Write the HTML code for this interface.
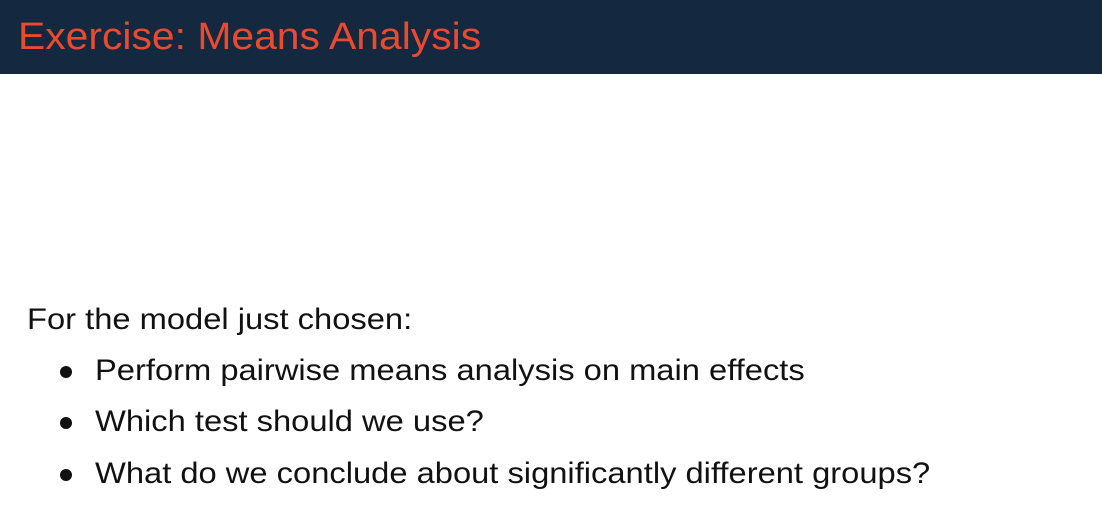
<!DOCTYPE html>
<html>
<head>
<meta charset="utf-8">
<style>
  html,body{margin:0;padding:0;}
  body{width:1102px;height:531px;background:#fff;position:relative;overflow:hidden;font-family:"Liberation Sans",sans-serif;}
  .header{position:absolute;left:0;top:0;width:1102px;height:74px;background:#14283f;}
  .title{position:absolute;left:18px;top:14px;font-size:38px;line-height:46px;color:#ec4a2f;white-space:nowrap;transform:scaleX(1.075);transform-origin:0 0;}
  .line{position:absolute;font-size:29.5px;line-height:34px;color:#111;white-space:nowrap;transform:scaleX(1.108);transform-origin:0 0;}
  .bullet{position:absolute;width:12px;height:12px;border-radius:50%;background:#111;}
</style>
</head>
<body>
<div class="header">
  <div class="title">Exercise: Means Analysis</div>
</div>
<div class="line" style="left:27px;top:303px;">For the model just chosen:</div>

<div class="bullet" style="left:60px;top:366px;"></div>
<div class="line" style="left:95px;top:354px;">Perform pairwise means analysis on main effects</div>

<div class="bullet" style="left:60px;top:417px;"></div>
<div class="line" style="left:95px;top:405px;">Which test should we use?</div>

<div class="bullet" style="left:60px;top:469px;"></div>
<div class="line" style="left:95px;top:457px;">What do we conclude about significantly different groups?</div>
</body>
</html>
